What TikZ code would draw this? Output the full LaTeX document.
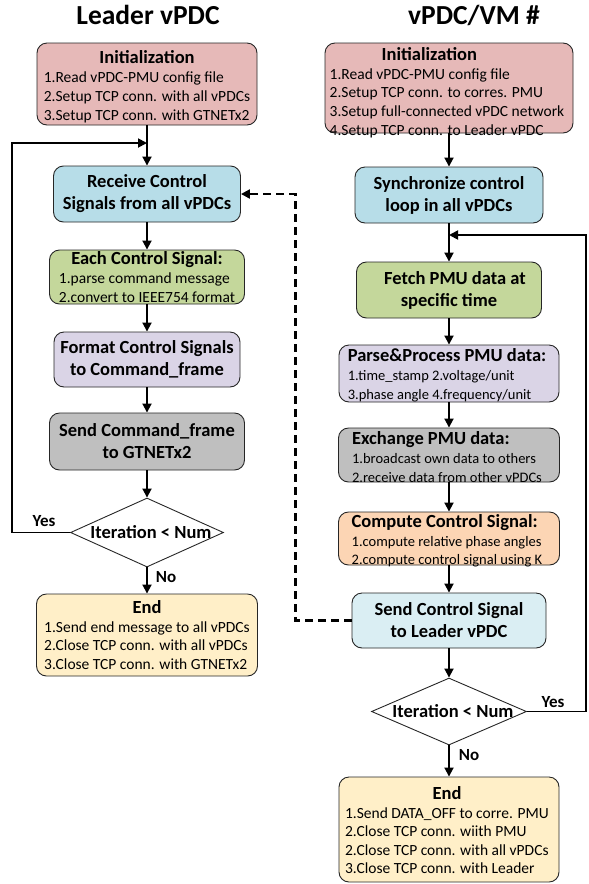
\documentclass[tikz,border=0pt]{standalone}
\usepackage{fontspec}
\setmainfont{Carlito}
\usetikzlibrary{arrows.meta,shapes.geometric}
\definecolor{cinit}{HTML}{E6B9B8}
\definecolor{crecv}{HTML}{B7DDE8}
\definecolor{cgreen}{HTML}{C4D79B}
\definecolor{clav}{HTML}{DAD4E6}
\definecolor{cgray}{HTML}{BFBFBF}
\definecolor{corange}{HTML}{FCD5B4}
\definecolor{clblue}{HTML}{DAEEF3}
\definecolor{cend}{HTML}{FFEFC8}
\newcommand\hdtxt[1]{{\fontsize{18.5}{20}\selectfont\bfseries #1}}
\newcommand\boxlistC[2]{\begin{tabular}{@{}l@{}}\multicolumn{1}{@{}c@{}}{\hdtxt{#1}}\\#2\end{tabular}}
\newcommand\boxlistL[2]{\begin{tabular}{@{}l@{}}\hdtxt{#1}\\#2\end{tabular}}
\tikzset{
  box/.style={draw=black!85, line width=0.9pt, rounded corners=10pt, inner sep=0pt, align=center},
  txt/.style={inner sep=0pt, font=\fontsize{15.5}{19}\selectfont},
  small/.style={inner sep=0pt, font=\fontsize{14.5}{19}\selectfont},
  bold/.style={font=\fontsize{18.5}{22}\selectfont\bfseries},
  dia/.style={draw=black!85, line width=0.9pt, shape=diamond, inner sep=0pt, fill=white},
  arr/.style={line width=1.8pt, -{Triangle[length=9pt,width=9pt]}},
  dasharr/.style={line width=2.2pt, dash pattern=on 8pt off 5pt, -{Triangle[length=9pt,width=9pt]}},
  ttl/.style={font=\fontsize{27.5}{30}\selectfont\bfseries, anchor=base},
  lbl/.style={font=\fontsize{17}{19}\selectfont\bfseries},
}
\begin{document}
\begin{tikzpicture}[x=1pt,y=-1pt]
\useasboundingbox (0,0) rectangle (589,884);
% titles
\node[ttl] (ltitle) at (148,24) {Leader vPDC};
\node[ttl] (rtitle) at (474,24) {vPDC/VM \#};
% left column
\node[box, fill=cinit, minimum width=220pt, minimum height=82pt] (linit) at (147,84) {};
\node[txt] (linit-t) at (147,88)
  {\boxlistC{Initialization}{1.Read vPDC-PMU config file\\2.Setup TCP conn. with all vPDCs\\3.Setup TCP conn. with GTNETx2}};
\node[box, bold, fill=crecv, minimum width=187pt, minimum height=56pt] (lrecv) at (147,194)
  {Receive Control\\Signals from all vPDCs};
\node[box, fill=cgreen, minimum width=195pt, minimum height=54pt] (leach) at (147,277) {};
\node[txt] (leach-t) at (147,280)
  {\boxlistC{Each Control Signal:}{1.parse command message\\2.convert to IEEE754 format}};
\node[box, bold, fill=clav, minimum width=186pt, minimum height=55pt] (lfmt) at (147,359.5)
  {Format Control Signals\\to Command\_frame};
\node[box, bold, fill=cgray, minimum width=195pt, minimum height=57pt] (lsend) at (147,441.5)
  {Send Command\_frame\\to GTNETx2};
\node[dia, minimum width=153pt, minimum height=69pt] (ldia) at (147,532.5) {};
\node[bold] (ldtxt) at (151,532) {Iteration < Num};
\node[box, fill=cend, minimum width=221pt, minimum height=82pt] (lend) at (147,635) {};
\node[txt, font=\fontsize{15.5}{18.5}\selectfont] (lend-t) at (147,638)
  {\boxlistC{End}{1.Send end message to all vPDCs\\2.Close TCP conn. with all vPDCs\\3.Close TCP conn. with GTNETx2}};
\coordinate (ljoin) at (147,143);
\draw[arr] (linit) -- (lrecv);
\draw[arr] (ldia.west) -- ++(-58,0) |- (ljoin);
\draw[arr] (lrecv) -- (leach);
\draw[arr] (leach) -- (lfmt);
\draw[arr] (lfmt) -- (lsend);
\draw[arr] (lsend) -- (ldia);
\draw[arr] (ldia) -- (lend);
\node[lbl] (lyes) at (44,521) {Yes};
\node[lbl] (lno) at (166,577) {No};
% right column
\node[box, fill=cinit, minimum width=248pt, minimum height=90pt] (rinit) at (449,88) {};
\node[txt, font=\fontsize{15.5}{18.75}\selectfont] (rinit-t) at (447,94)
  {\boxlistL{\hspace{52pt}Initialization}{1.Read vPDC-PMU config file\\2.Setup TCP conn. to corres. PMU\\3.Setup full-connected vPDC network\\4.Setup TCP conn. to Leader vPDC}};
\node[box, bold, fill=crecv, minimum width=188pt, minimum height=56pt] (rsync) at (449,195)
  {Synchronize control\\loop in all vPDCs};
\node[box, bold, fill=cgreen, minimum width=185pt, minimum height=56pt] (rfetch) at (449,290)
  {\hspace{12pt}Fetch PMU data at\\specific time};
\node[box, fill=clav, minimum width=220pt, minimum height=57pt] (rparse) at (449,373.5) {};
\node[small] (rparse-t) at (447,377)
  {\boxlistL{Parse\&Process PMU data:}{1.time\_stamp 2.voltage/unit\\3.phase angle 4.frequency/unit}};
\node[box, fill=cgray, minimum width=221pt, minimum height=54pt] (rexch) at (449,455) {};
\node[small] (rexch-t) at (447,460)
  {\boxlistL{Exchange PMU data:}{1.broadcast own data to others\\2.receive data from other vPDCs}};
\node[box, fill=corange, minimum width=221pt, minimum height=53pt] (rcomp) at (449,538.5) {};
\node[small, font=\fontsize{14.5}{18.5}\selectfont] (rcomp-t) at (447,542.5)
  {\boxlistL{Compute Control Signal:}{1.compute relative phase angles\\2.compute control signal using K}};
\node[box, bold, fill=clblue, minimum width=194pt, minimum height=55pt] (rsendc) at (449,620.5)
  {Send Control Signal\\to Leader vPDC};
\node[dia, minimum width=155pt, minimum height=67pt] (rdia) at (449,711.5) {};
\node[bold] (rdtxt) at (453,711) {Iteration < Num};
\node[box, fill=cend, minimum width=220pt, minimum height=105pt] (rend) at (449,829.5) {};
\node[txt, font=\fontsize{15.5}{18.5}\selectfont] (rend-t) at (447,833)
  {\boxlistC{End}{1.Send DATA\_OFF to corre. PMU\\2.Close TCP conn. wiith PMU\\2.Close TCP conn. with all vPDCs\\3.Close TCP conn. with Leader}};
\coordinate (rjoin) at (449,235);
\draw[arr] (rinit) -- (rsync);
\draw[arr] (rsync) -- (rfetch);
\draw[arr] (rdia.east) -- ++(59,0) |- (rjoin);
\draw[arr] (rfetch) -- (rparse);
\draw[arr] (rparse) -- (rexch);
\draw[arr] (rexch) -- (rcomp);
\draw[arr] (rcomp) -- (rsendc);
\draw[arr] (rsendc) -- (rdia);
\draw[arr] (rdia) -- (rend);
\node[lbl] (ryes) at (553,702) {Yes};
\node[lbl] (rno) at (469,755) {No};
% dashed feedback
\draw[dasharr] (rsendc.west) -- ++(-56,0) |- (lrecv.east);
\end{tikzpicture}
\end{document}
